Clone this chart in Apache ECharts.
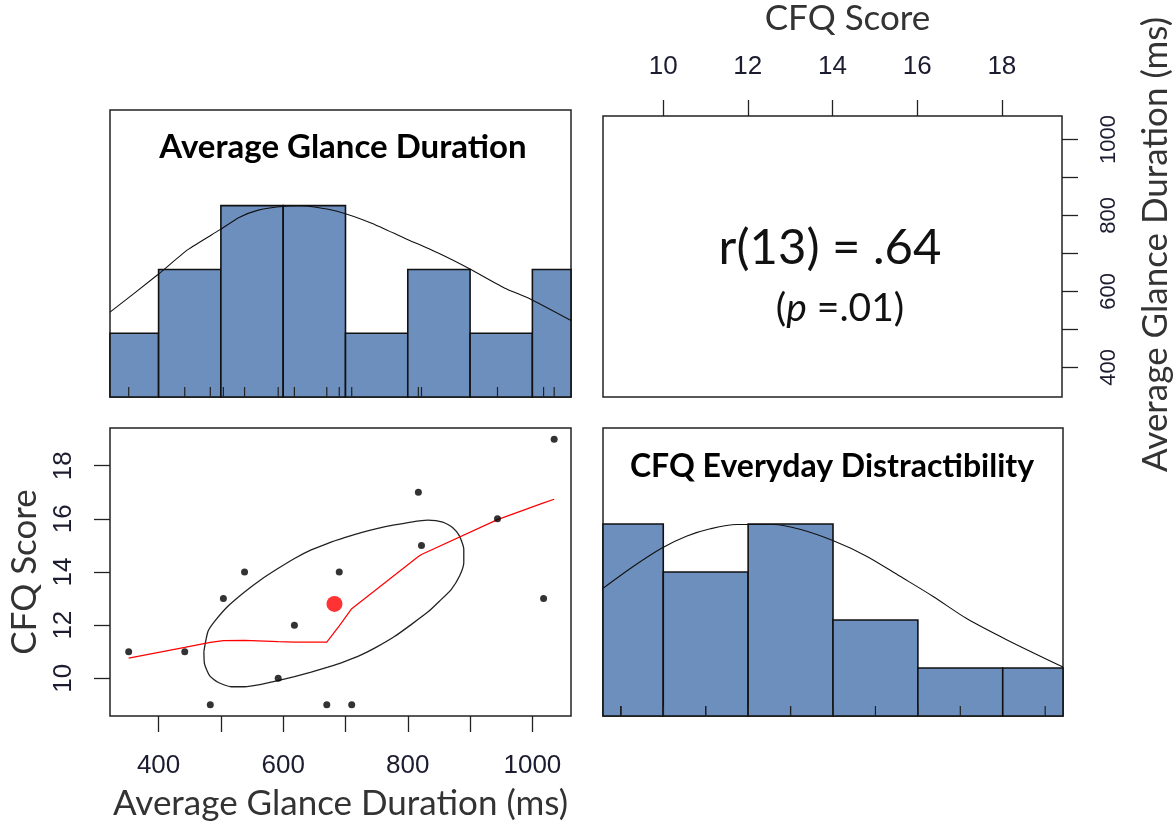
<!DOCTYPE html>
<html><head><meta charset="utf-8">
<script src="https://cdn.jsdelivr.net/npm/echarts@6/dist/echarts.min.js"></script>
<style>html,body{margin:0;padding:0;background:#fff}#c{width:1174px;height:823px}</style>
</head><body><div id="c"></div>
<script>
// ---------------- data ----------------
const glanceMs = [352,442,483,504,538,592,618,670,690,710,817,822,944,1018,1035];
const cfqScore = [11,11,9,13,14,10,12,9,14,9,17,15,16,13,19];
const meanPoint = [682.3, 12.8];

const glanceBinEdges = [300,400,500,600,700,800,900,1000,1100];
const glanceCounts   = [1,2,3,3,1,2,1,2];
const cfqBinEdges    = [8,10,12,14,16,18,20];
const cfqCounts      = [4,3,4,2,1,1];

const glanceCurve = [[322,1.33],[399,1.92],[447,2.31],[498,2.62],[530,2.82],[560,2.93],[590,2.98],[625,3.0],[650,2.98],[688,2.91],[741,2.73],[795,2.49],[848,2.26],[899,2.01],[955,1.71],[998,1.53],[1062,1.20]];
const cfqCurve = [[8.58,2.66],[9.30,3.12],[9.97,3.50],[10.56,3.75],[11.11,3.90],[11.73,3.99],[12.60,3.99],[13.22,3.89],[14.01,3.65],[14.79,3.33],[15.58,2.91],[16.36,2.49],[17.15,2.03],[18.09,1.59],[19.42,1.02]];

const ellipsePts = [[472.7,11.01],[479.2,11.76],[489.9,12.14],[511.2,12.71],[538.0,13.25],[564.7,13.72],[591.5,14.13],[618.2,14.51],[644.9,14.83],[671.7,15.08],[698.4,15.29],[725.2,15.48],[751.9,15.64],[778.6,15.77],[805.4,15.88],[832.1,15.95],[856.2,15.88],[872.2,15.67],[882.9,15.36],[889.9,14.85],[889.9,14.35],[882.9,13.84],[869.6,13.34],[850.8,12.9],[832.1,12.49],[805.4,12.02],[778.6,11.57],[751.9,11.20],[725.2,10.88],[698.4,10.63],[671.7,10.42],[644.9,10.23],[618.2,10.06],[591.5,9.91],[564.7,9.77],[538.0,9.68],[516.6,9.68],[495.2,9.85],[481.8,10.10],[473.8,10.53],[472.7,11.01]];
const loessPts = [[352,10.76],[442,11.16],[483,11.35],[504,11.42],[538,11.43],[592,11.38],[618,11.36],[670,11.36],[690,11.97],[710,12.62],[817,14.58],[822,14.66],[944,15.97],[1018,16.6],[1035,16.74]];

const glanceTicks  = [400,500,600,700,800,900,1000];
const glanceLabels = [400,600,800,1000];
const cfqTicks     = [10,12,14,16,18];

const corrText = 'r(13) = .64';
const pText = ['(', 'p', ' =.01)'];
const glanceName = 'Average Glance Duration (ms)';
const cfqName = 'CFQ Score';
const glanceTitle = 'Average Glance Duration';
const cfqTitle = 'CFQ Everyday Distractibility';

// ---------------- chart ----------------
const GLANCE_RANGE = [322, 1062];
const CFQ_RANGE = [8.58, 19.42];
const BAR_FILL = '#6d8fbe';
const TICK_FONT = "Liberation Sans";
const TITLE_FONT = "Lato";
const plain = v => String(v);

function histData(edges, counts){
  return counts.map((c,i)=>[edges[i], edges[i+1], c]);
}
function histRender(params, api){
  const cs = params.coordSys;
  const p0 = api.coord([api.value(0), 0]);
  const p1 = api.coord([api.value(1), api.value(2)]);
  const x0 = Math.max(p0[0], cs.x), x1 = Math.min(p1[0], cs.x + cs.width);
  if (x1 <= x0) return null;
  return {type:'rect', shape:{x:x0, y:p1[1], width:x1-x0, height:p0[1]-p1[1]},
          style:{fill:BAR_FILL, stroke:'#111', lineWidth:1.6}};
}
function rugRender(params, api){
  const p = api.coord([api.value(0), 0]);
  return {type:'line', shape:{x1:p[0], y1:p[1], x2:p[0], y2:p[1]-10}, style:{stroke:'#222', lineWidth:1.2}};
}

const gridStyle = {show:true, borderColor:'#222', borderWidth:1.5, backgroundColor:'transparent', containLabel:false};
const hiddenAxis = (gi, range) => ({gridIndex:gi, type:'value', min:range[0], max:range[1], show:false, splitLine:{show:false}});
const tickStyle = {show:true, length:16, lineStyle:{color:'#222', width:1.3}};
const nameStyle = {fontSize:35, fontFamily:TITLE_FONT, color:'#333'};

const chart = echarts.init(document.getElementById('c'), null, {renderer:'canvas'});
chart.setOption({
  animation:false,
  backgroundColor:'#fff',
  grid:[
    Object.assign({left:110, top:110, width:461, height:287}, gridStyle),
    Object.assign({left:603, top:110, width:460, height:287}, gridStyle),
    Object.assign({left:110, top:428, width:461, height:288}, gridStyle),
    Object.assign({left:603, top:428, width:460, height:288}, gridStyle)
  ],
  xAxis:[
    hiddenAxis(0, GLANCE_RANGE),
    {gridIndex:1, type:'value', position:'top', min:CFQ_RANGE[0], max:CFQ_RANGE[1],
     axisLine:{show:false}, splitLine:{show:false},
     axisTick:Object.assign({customValues:cfqTicks}, tickStyle),
     axisLabel:{customValues:cfqTicks, formatter:plain, margin:36, fontSize:26, fontFamily:TICK_FONT, color:'#1c1c30'},
     name:cfqName, nameLocation:'middle', nameGap:80,
     nameTextStyle:Object.assign({padding:[0,0,0,30]}, nameStyle)},
    {gridIndex:2, type:'value', position:'bottom', min:GLANCE_RANGE[0], max:GLANCE_RANGE[1],
     axisLine:{show:false}, splitLine:{show:false},
     axisTick:Object.assign({customValues:glanceTicks}, tickStyle),
     axisLabel:{customValues:glanceLabels, formatter:plain, margin:37, fontSize:26, fontFamily:TICK_FONT, color:'#1c1c30'},
     name:glanceName, nameLocation:'middle', nameGap:70,
     nameTextStyle:nameStyle},
    hiddenAxis(3, CFQ_RANGE)
  ],
  yAxis:[
    hiddenAxis(0, [0, 4.5]),
    {gridIndex:1, type:'value', position:'right', min:GLANCE_RANGE[0], max:GLANCE_RANGE[1],
     axisLine:{show:false}, splitLine:{show:false},
     axisTick:Object.assign({customValues:glanceTicks}, tickStyle),
     axisLabel:{customValues:glanceLabels, formatter:plain, rotate:90, margin:36, fontSize:22, fontFamily:TICK_FONT, color:'#1c1c30'},
     name:glanceName, nameLocation:'middle', nameRotate:90, nameGap:76,
     nameTextStyle:Object.assign({padding:[0,0,0,24]}, nameStyle)},
    {gridIndex:2, type:'value', position:'left', min:CFQ_RANGE[0], max:CFQ_RANGE[1],
     axisLine:{show:false}, splitLine:{show:false},
     axisTick:Object.assign({customValues:cfqTicks}, tickStyle),
     axisLabel:{customValues:cfqTicks, formatter:plain, rotate:90, margin:33, fontSize:26, fontFamily:TICK_FONT, color:'#1c1c30'},
     name:cfqName, nameLocation:'middle', nameRotate:90, nameGap:68,
     nameTextStyle:nameStyle},
    hiddenAxis(3, [0, 6])
  ],
  series:[
    {type:'custom', xAxisIndex:0, yAxisIndex:0, data:histData(glanceBinEdges, glanceCounts), renderItem:histRender, silent:true, z:2},
    {type:'custom', xAxisIndex:0, yAxisIndex:0, data:glanceMs.map(v=>[v]), renderItem:rugRender, silent:true, z:3},
    {type:'line', xAxisIndex:0, yAxisIndex:0, data:glanceCurve, smooth:0.2, symbol:'none', lineStyle:{color:'#111', width:1.1}, z:4, silent:true},

    {type:'custom', xAxisIndex:3, yAxisIndex:3, data:histData(cfqBinEdges, cfqCounts), renderItem:histRender, silent:true, z:2},
    {type:'custom', xAxisIndex:3, yAxisIndex:3, data:cfqScore.map(v=>[v]), renderItem:rugRender, silent:true, z:3},
    {type:'line', xAxisIndex:3, yAxisIndex:3, data:cfqCurve, smooth:0.3, symbol:'none', lineStyle:{color:'#111', width:1.1}, z:4, silent:true},

    {type:'line', xAxisIndex:2, yAxisIndex:2, data:ellipsePts, smooth:0.2, symbol:'none', lineStyle:{color:'#222', width:1.3}, z:3, silent:true},
    {type:'line', xAxisIndex:2, yAxisIndex:2, data:loessPts, symbol:'none', lineStyle:{color:'#ff0000', width:1.2}, z:4, silent:true},
    {type:'scatter', xAxisIndex:2, yAxisIndex:2, data:glanceMs.map((v,i)=>[v, cfqScore[i]]), symbol:'circle', symbolSize:7, itemStyle:{color:'#000'}, z:5, silent:true},
    {type:'scatter', xAxisIndex:2, yAxisIndex:2, data:[meanPoint], symbol:'circle', symbolSize:16, itemStyle:{color:'#ff0000'}, z:6, silent:true}
  ],
  graphic:[
    {type:'text', x:343, y:147, z:10, style:{text:glanceTitle, align:'center', verticalAlign:'middle', fontSize:33, fontWeight:'bold', fontFamily:TITLE_FONT, fill:'#000'}},
    {type:'text', x:832, y:467, z:10, style:{text:cfqTitle, align:'center', verticalAlign:'middle', fontSize:32, fontWeight:'bold', fontFamily:TITLE_FONT, fill:'#000'}},
    {type:'text', x:830, y:248, z:10, style:{text:corrText, align:'center', verticalAlign:'middle', fontSize:49, fontFamily:TITLE_FONT, fill:'#111'}},
    {type:'text', x:840, y:308, z:10, style:{text:'{n|' + pText[0] + '}{i|' + pText[1] + '}{n|' + pText[2] + '}', align:'center', verticalAlign:'middle',
      rich:{n:{fontSize:39, fontFamily:TITLE_FONT, fill:'#111'}, i:{fontSize:39, fontStyle:'italic', fontFamily:TITLE_FONT, fill:'#111'}}}}
  ]
});
</script></body></html>
